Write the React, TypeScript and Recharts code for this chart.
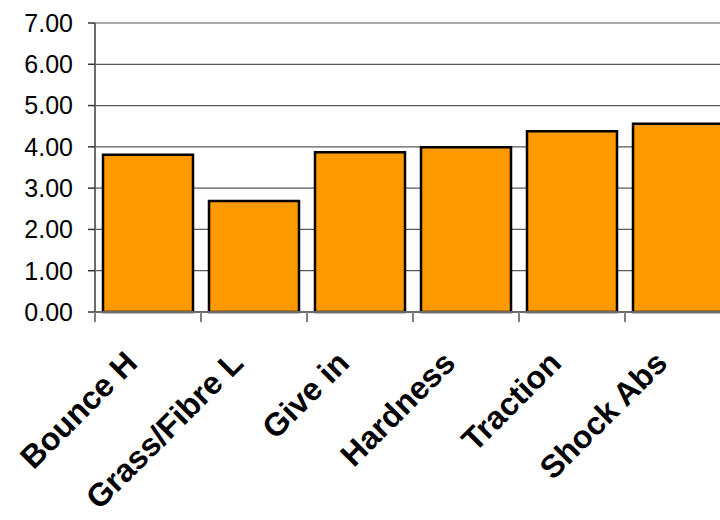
import React from "react";
import { BarChart, Bar, XAxis, YAxis, CartesianGrid } from "recharts";

const categories = ["Bounce H", "Grass/Fibre L", "Give in", "Hardness", "Traction", "Shock Abs"];
const scores = [3.81, 2.69, 3.87, 3.99, 4.38, 4.56];
const yTicks = [0, 1, 2, 3, 4, 5, 6, 7];

const data = categories.map((name, i) => ({ name, score: scores[i] }));

const FONT = "'Liberation Sans', Arial, sans-serif";

// category label rotated 45deg, plus a tick mark on the left boundary of each band
const CategoryTick = (props: any) => {
  const { x, y, payload } = props;
  const half = payload && payload.offset ? payload.offset : 53;
  const tx = x - 9;
  const ty = y + 53;
  return (
    <g>
      <line x1={x - half} y1={y} x2={x - half} y2={y + 10} stroke="#808080" strokeWidth={2} />
      <text
        x={tx}
        y={ty}
        textAnchor="end"
        transform={`rotate(-45 ${tx} ${ty})`}
        fontFamily={FONT}
        fontWeight="bold"
        fontSize={32}
        fill="#000"
      >
        {payload.value}
      </text>
    </g>
  );
};

export default function App() {
  return (
    <div
      style={{
        position: "absolute",
        left: 0,
        top: 0,
        width: 720,
        height: 520,
        overflow: "hidden",
        background: "#fff",
      }}
    >
      <BarChart
        width={740}
        height={520}
        data={data}
        margin={{ top: 23, right: 9, bottom: 0, left: 0 }}
        barCategoryGap={8}
      >
        <CartesianGrid vertical={false} stroke="#5a5a5a" strokeWidth={1.2} />
        <XAxis
          dataKey="name"
          height={208}
          interval={0}
          tickLine={false}
          tickSize={0}
          tickMargin={0}
          axisLine={{ stroke: "#6b6b6b", strokeWidth: 2 }}
          tick={<CategoryTick />}
        />
        <YAxis
          width={95}
          domain={[0, 7]}
          ticks={yTicks}
          interval={0}
          tickFormatter={(v: number) => v.toFixed(2)}
          tickSize={7}
          tickMargin={15}
          tickLine={{ stroke: "#333", strokeWidth: 1.5 }}
          axisLine={{ stroke: "#6b6b6b", strokeWidth: 2 }}
          tick={{ fontFamily: FONT, fontSize: 25, fill: "#000" }}
        />
        <Bar
          dataKey="score"
          fill="#FF9900"
          stroke="#000"
          strokeWidth={2.5}
          isAnimationActive={false}
        />
      </BarChart>
    </div>
  );
}
